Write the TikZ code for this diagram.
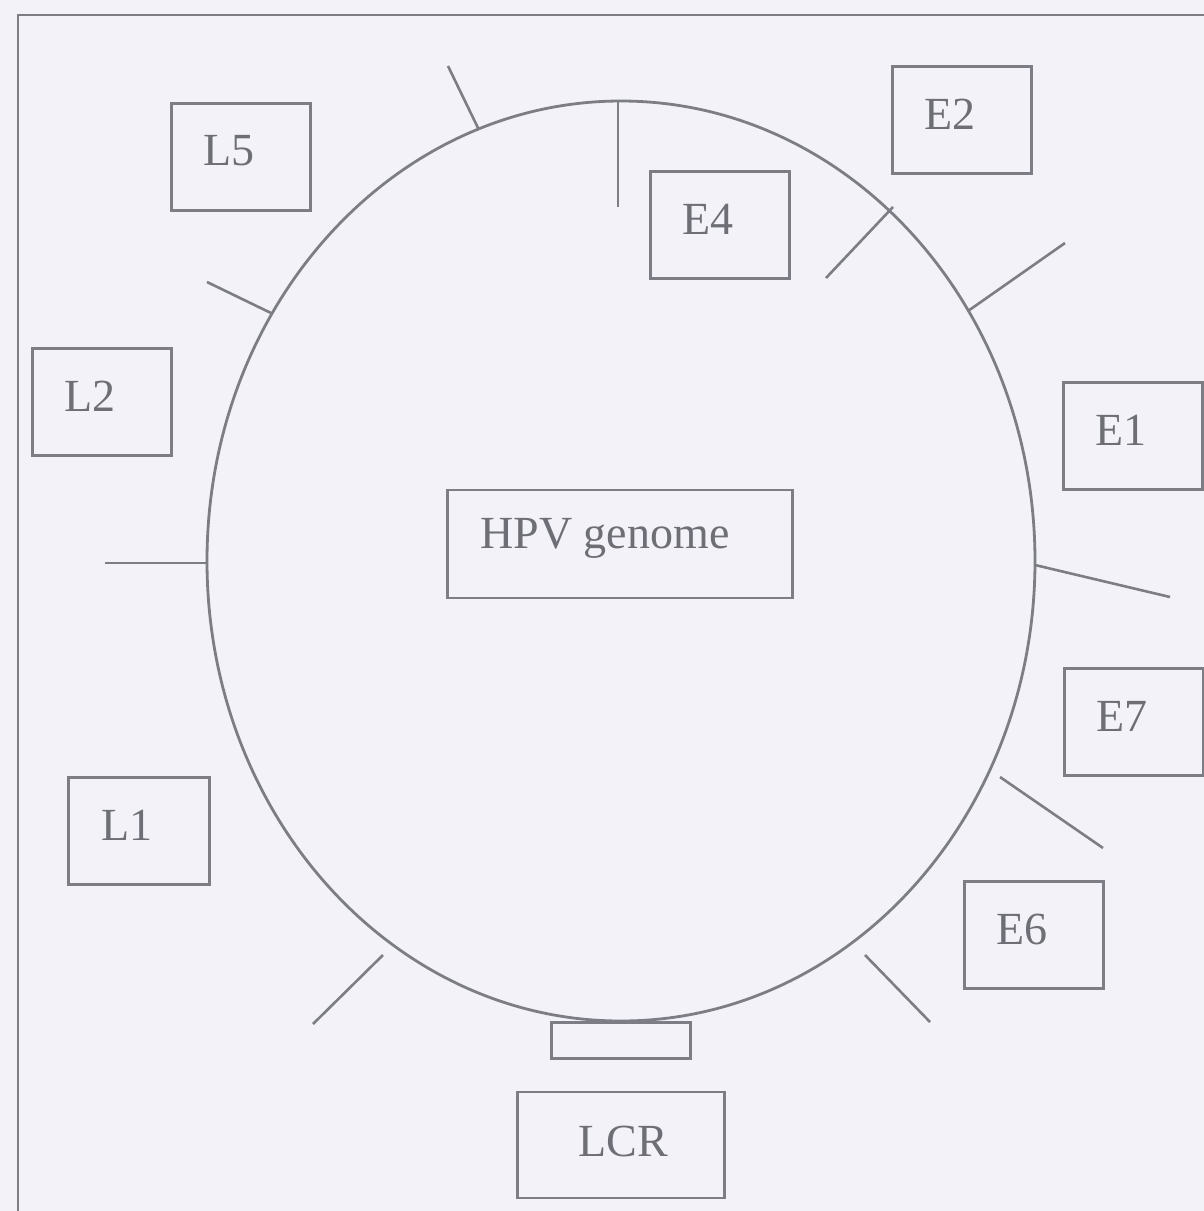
\documentclass[tikz,border=0pt]{standalone}
\usepackage{fontspec}
\setmainfont{Liberation Serif}
\usetikzlibrary{shapes.geometric}
\definecolor{paper}{RGB}{242,242,248}
\definecolor{ink}{RGB}{125,125,134}
\definecolor{txt}{RGB}{110,110,118}
\begin{document}
\begin{tikzpicture}[x=1pt,y=-1pt,line width=2.8pt,draw=ink,
  genebox/.style={draw=ink,rectangle,minimum width=139pt,minimum height=107pt,inner sep=0pt},
  genelbl/.style={text=txt,inner sep=0pt,font=\fontsize{46}{52}\selectfont},
  ticks/.style={draw=ink,line width=2.6pt}]
% page and frame
\fill[paper] (0,0) rectangle (1204,1211);
\useasboundingbox (0,0) rectangle (1204,1211);
\draw (18,1211) -- (18,15) -- (1204,15);

% circular genome
\node[draw=ink,ellipse,minimum width=828pt,minimum height=920pt,inner sep=0pt] (genome) at (621,561) {};
\coordinate (lcrtop) at (621,1021);
\node[draw=ink,rectangle,minimum width=139pt,minimum height=36pt,inner sep=0pt,anchor=north] (lcrbar) at (lcrtop) {};

% gene boundary ticks
\draw[ticks] (448,66) -- (479,130);
\draw[ticks] (618,101) -- (618,207);
\draw[ticks] (893,207) -- (826,278);
\draw[ticks] (968,311) -- (1065,243);
\draw[ticks] (1035,565) -- (1170,597);
\draw[ticks] (1000,777) -- (1103,848);
\draw[ticks] (865,955) -- (930,1022);
\draw[ticks] (383,955) -- (313,1024);
\draw[ticks] (105,563) -- (208,563);
\draw[ticks] (207,282) -- (271,313);

% gene labels
\node[genebox] (l5) at (241,157) {};
\node[genelbl] at ([shift={(-12,-6)}]l5.center) {L5};
\node[genebox] (e2) at (962,120) {};
\node[genelbl] at ([shift={(-12,-6)}]e2.center) {E2};
\node[genebox] (e4) at (720,225) {};
\node[genelbl] at ([shift={(-12,-6)}]e4.center) {E4};
\node[genebox] (l2) at (102,402) {};
\node[genelbl] at ([shift={(-12,-6)}]l2.center) {L2};
\node[genebox] (e1) at (1133,436) {};
\node[genelbl] at ([shift={(-12,-6)}]e1.center) {E1};
\node[genebox] (e7) at (1134,722) {};
\node[genelbl] at ([shift={(-12,-6)}]e7.center) {E7};
\node[genebox,minimum width=141pt] (l1) at (139,831) {};
\node[genelbl] at ([shift={(-12,-6)}]l1.center) {L1};
\node[genebox] (e6) at (1034,935) {};
\node[genelbl] at ([shift={(-12,-6)}]e6.center) {E6};
\node[genebox,minimum width=345pt,minimum height=108pt] (hpv) at (620,544) {};
\node[genelbl] at ([shift={(-15,-6)}]hpv.center) {HPV genome};
\node[genebox,minimum width=207pt,minimum height=106pt] (lcr) at (621,1145) {};
\node[genelbl] at ([shift={(2,-4)}]lcr.center) {LCR};
\end{tikzpicture}
\end{document}
